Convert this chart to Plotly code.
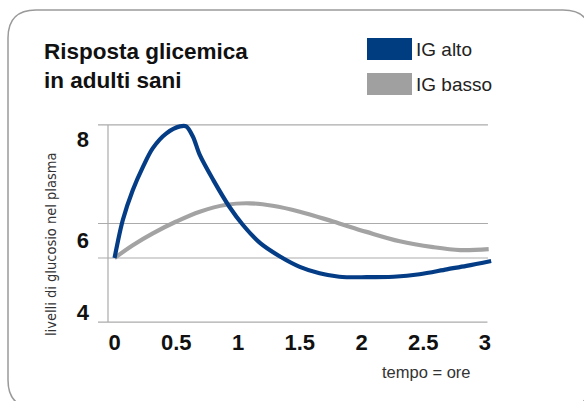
import plotly.graph_objects as go

# ---- data ----
time_high = [0, 0.067, 0.148, 0.23, 0.31, 0.42, 0.53, 0.58, 0.635, 0.69, 0.80, 0.93, 1.04, 1.18, 1.34, 1.50, 1.66, 1.82, 2.04, 2.26, 2.47, 2.69, 2.85, 3.05]
gluc_high = [5.3, 6.07, 6.68, 7.15, 7.53, 7.83, 7.97, 7.97, 7.76, 7.39, 6.88, 6.34, 5.97, 5.6, 5.33, 5.12, 4.99, 4.92, 4.91, 4.92, 4.97, 5.07, 5.14, 5.24]
time_low = [0, 0.148, 0.31, 0.50, 0.69, 0.905, 1.095, 1.28, 1.50, 1.77, 2.04, 2.31, 2.58, 2.80, 3.03]
gluc_low = [5.3, 5.56, 5.8, 6.04, 6.24, 6.38, 6.41, 6.36, 6.24, 6.04, 5.83, 5.64, 5.52, 5.46, 5.48]
x_ticks = [0, 0.5, 1, 1.5, 2, 2.5, 3]
x_tick_text = ["0", "0.5", "1", "1.5", "2", "2.5", "3"]
grid_levels = [8, 6, 5.3]
y_label_pos = [4.2, 5.665, 7.7]
y_label_text = ["4", "6", "8"]
series_names = ["IG alto", "IG basso"]

BLUE = "#043d85"
GREY = "#a3a3a3"
GRID = "#ababab"
W, H = 584, 401

def px(x):
    return x / W

def py(y):
    return 1 - y / H

fig = go.Figure()
fig.add_trace(go.Scatter(x=time_low, y=gluc_low, mode="lines", name=series_names[1],
                         line=dict(color=GREY, width=4.2, shape="spline", smoothing=1.0)))
fig.add_trace(go.Scatter(x=time_high, y=gluc_high, mode="lines", name=series_names[0],
                         line=dict(color=BLUE, width=4.2, shape="spline", smoothing=0.9)))

x0, x1 = -0.134, 3.073
shapes = []
for g in grid_levels:
    shapes.append(dict(type="line", xref="x", yref="y", x0=x0, x1=3.024, y0=g, y1=g,
                       line=dict(color=GRID, width=1.2), layer="below"))
shapes.append(dict(type="line", xref="x", yref="y", x0=x0, x1=3.02, y0=4, y1=4,
                   line=dict(color=GRID, width=1.2), layer="below"))
shapes.append(dict(type="line", xref="x", yref="y", x0=-0.053, x1=-0.053, y0=4, y1=8,
                   line=dict(color=GRID, width=1.2), layer="below"))

# rounded outer frame
L, T, R, B, r = 8, 10, 591, 408, 28
path = (f"M {px(L+r)} {py(T)} L {px(R-r)} {py(T)} Q {px(R)} {py(T)} {px(R)} {py(T+r)} "
        f"L {px(R)} {py(B-r)} Q {px(R)} {py(B)} {px(R-r)} {py(B)} "
        f"L {px(L+r)} {py(B)} Q {px(L)} {py(B)} {px(L)} {py(B-r)} "
        f"L {px(L)} {py(T+r)} Q {px(L)} {py(T)} {px(L+r)} {py(T)} Z")
shapes.append(dict(type="path", xref="paper", yref="paper", path=path,
                   line=dict(color="#9a9a9a", width=1.5), layer="below"))

# legend swatches
shapes.append(dict(type="rect", xref="paper", yref="paper", x0=px(367), x1=px(412), y0=py(60), y1=py(38),
                   fillcolor="#003c80", line=dict(width=0)))
shapes.append(dict(type="rect", xref="paper", yref="paper", x0=px(367), x1=px(412), y0=py(95), y1=py(73),
                   fillcolor="#a0a0a0", line=dict(width=0)))

annotations = [
    dict(text="<b>Risposta glicemica<br>in adulti sani</b>", xref="paper", yref="paper",
         x=px(42), y=py(37), xanchor="left", yanchor="top", showarrow=False, align="left",
         font=dict(family="Liberation Sans, Arial, sans-serif", size=22.5, color="#111111")),
    dict(text=series_names[0], xref="paper", yref="paper", x=px(414), y=py(49), xanchor="left",
         yanchor="middle", showarrow=False,
         font=dict(family="Liberation Sans, Arial, sans-serif", size=19, color="#222222")),
    dict(text=series_names[1], xref="paper", yref="paper", x=px(414), y=py(84), xanchor="left",
         yanchor="middle", showarrow=False,
         font=dict(family="Liberation Sans, Arial, sans-serif", size=19, color="#222222")),
    dict(text="livelli di glucosio nel plasma", xref="paper", yref="paper", x=px(51), y=py(245),
         xanchor="center", yanchor="middle", textangle=-90, showarrow=False,
         font=dict(family="DejaVu Sans Condensed, sans-serif", size=14.5, color="#333333")),
    dict(text="tempo = ore", xref="paper", yref="paper", x=px(426), y=py(372), xanchor="center",
         yanchor="middle", showarrow=False,
         font=dict(family="Liberation Sans, Arial, sans-serif", size=16.5, color="#333333")),
]

fig.update_layout(
    width=W, height=H, margin=dict(l=0, r=0, t=0, b=0),
    paper_bgcolor="white", plot_bgcolor="rgba(0,0,0,0)", showlegend=False,
    shapes=shapes, annotations=annotations,
    xaxis=dict(domain=[px(98), px(494)], range=[x0, x1], tickvals=x_ticks, ticktext=x_tick_text,
               showgrid=False, zeroline=False, showline=False, ticks="",
               tickfont=dict(family="Liberation Sans, Arial, sans-serif", size=22, color="#111111", weight="bold")),
    yaxis=dict(domain=[py(327), py(120)], range=[3.9, 8.1], tickvals=y_label_pos, ticktext=y_label_text,
               showgrid=False, zeroline=False, showline=False, ticks="", ticklabelstandoff=8,
               tickfont=dict(family="Liberation Sans, Arial, sans-serif", size=22, color="#111111", weight="bold")),
)

fig.write_html("out.html", config={"displayModeBar": False},
               post_script="document.body.style.margin='0';")
